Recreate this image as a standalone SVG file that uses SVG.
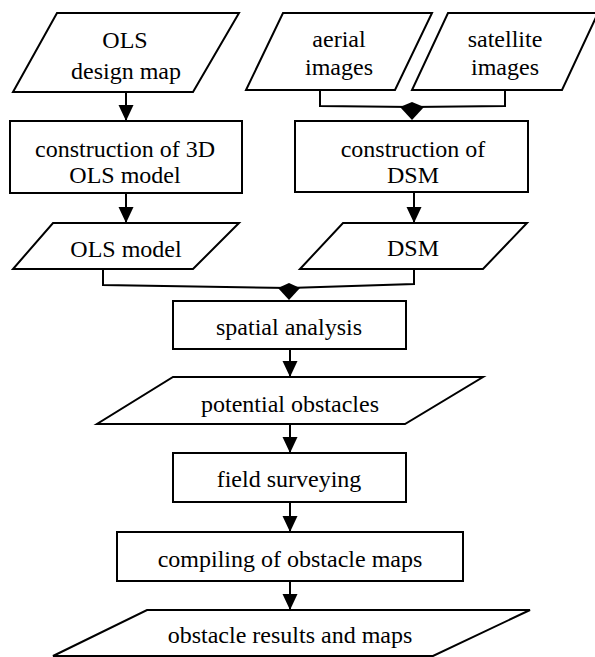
<svg xmlns="http://www.w3.org/2000/svg" width="595" height="657" viewBox="0 0 595 657">
<style>
.s{fill:#fff;stroke:#000;stroke-width:2;stroke-linejoin:miter}
.c{fill:none;stroke:#000;stroke-width:2}
.h{fill:#000;stroke:none}
</style>
<defs>
<marker id="arr" markerUnits="userSpaceOnUse" markerWidth="16" markerHeight="17" refX="16" refY="7.5" orient="auto">
<path d="M0,0 L16,7.5 L0,15 Z" fill="#000"/>
</marker>
</defs>
<rect width="595" height="657" fill="#fff"/>
<g id="connectors">
<path class="c" d="M126,92 V121" marker-end="url(#arr)"/>
<path class="c" d="M126,193 V223" marker-end="url(#arr)"/>
<path class="c" d="M320,90 V106 L412,107"/>
<path class="c" d="M505,90 V106 L412,107"/>
<polygon class="h" points="412,102 424,107 412,120 400,107"/>
<path class="c" d="M414,192 V223" marker-end="url(#arr)"/>
<path class="c" d="M103,269 V285 L289,288"/>
<path class="c" d="M414,269 V284 L289,288"/>
<polygon class="h" points="289,283 300,288 289,300 278,288"/>
<path class="c" d="M290,349 V377" marker-end="url(#arr)"/>
<path class="c" d="M290,424 V453" marker-end="url(#arr)"/>
<path class="c" d="M290,502 V532" marker-end="url(#arr)"/>
<path class="c" d="M290,581 V610" marker-end="url(#arr)"/>
</g>
<g id="nodes" font-family="Liberation Serif" font-size="24" text-anchor="middle" fill="#000">
<g id="ols-design-map">
<polygon class="s" points="57,13 239,13 193,92 13,92"/>
<text x="125" y="48">OLS</text>
<text x="126" y="79">design map</text>
</g>
<g id="construction-3d-ols">
<rect class="s" x="10" y="121" width="232" height="72"/>
<text x="125" y="157">construction of 3D</text>
<text x="125" y="183">OLS model</text>
</g>
<g id="ols-model">
<polygon class="s" points="53,223 239,223 193,269 13,269"/>
<text x="126" y="257">OLS model</text>
</g>
<g id="aerial-images">
<polygon class="s" points="283,13 432,13 395,90 246,90"/>
<text x="339" y="47">aerial</text>
<text x="339" y="75">images</text>
</g>
<g id="satellite-images">
<polygon class="s" points="448,13 598,13 562,90 412,90"/>
<text x="505" y="47">satellite</text>
<text x="505" y="75">images</text>
</g>
<g id="construction-dsm">
<rect class="s" x="295" y="121" width="233" height="71"/>
<text x="413" y="157">construction of</text>
<text x="413" y="183">DSM</text>
</g>
<g id="dsm">
<polygon class="s" points="343,223 527,223 483,269 300,269"/>
<text x="413" y="256">DSM</text>
</g>
<g id="spatial-analysis">
<rect class="s" x="173" y="301" width="233" height="48"/>
<text x="289" y="335">spatial analysis</text>
</g>
<g id="potential-obstacles">
<polygon class="s" points="173,377 483,377 405,424 97,424"/>
<text x="290" y="412">potential obstacles</text>
</g>
<g id="field-surveying">
<rect class="s" x="173" y="453" width="233" height="49"/>
<text x="289" y="487">field surveying</text>
</g>
<g id="compiling">
<rect class="s" x="117" y="532" width="346" height="49"/>
<text x="290" y="567">compiling of obstacle maps</text>
</g>
<g id="obstacle-results">
<polygon class="s" points="147,610 530,610 433,656 53,656"/>
<text x="290" y="643">obstacle results and maps</text>
</g>
</g>
</svg>
